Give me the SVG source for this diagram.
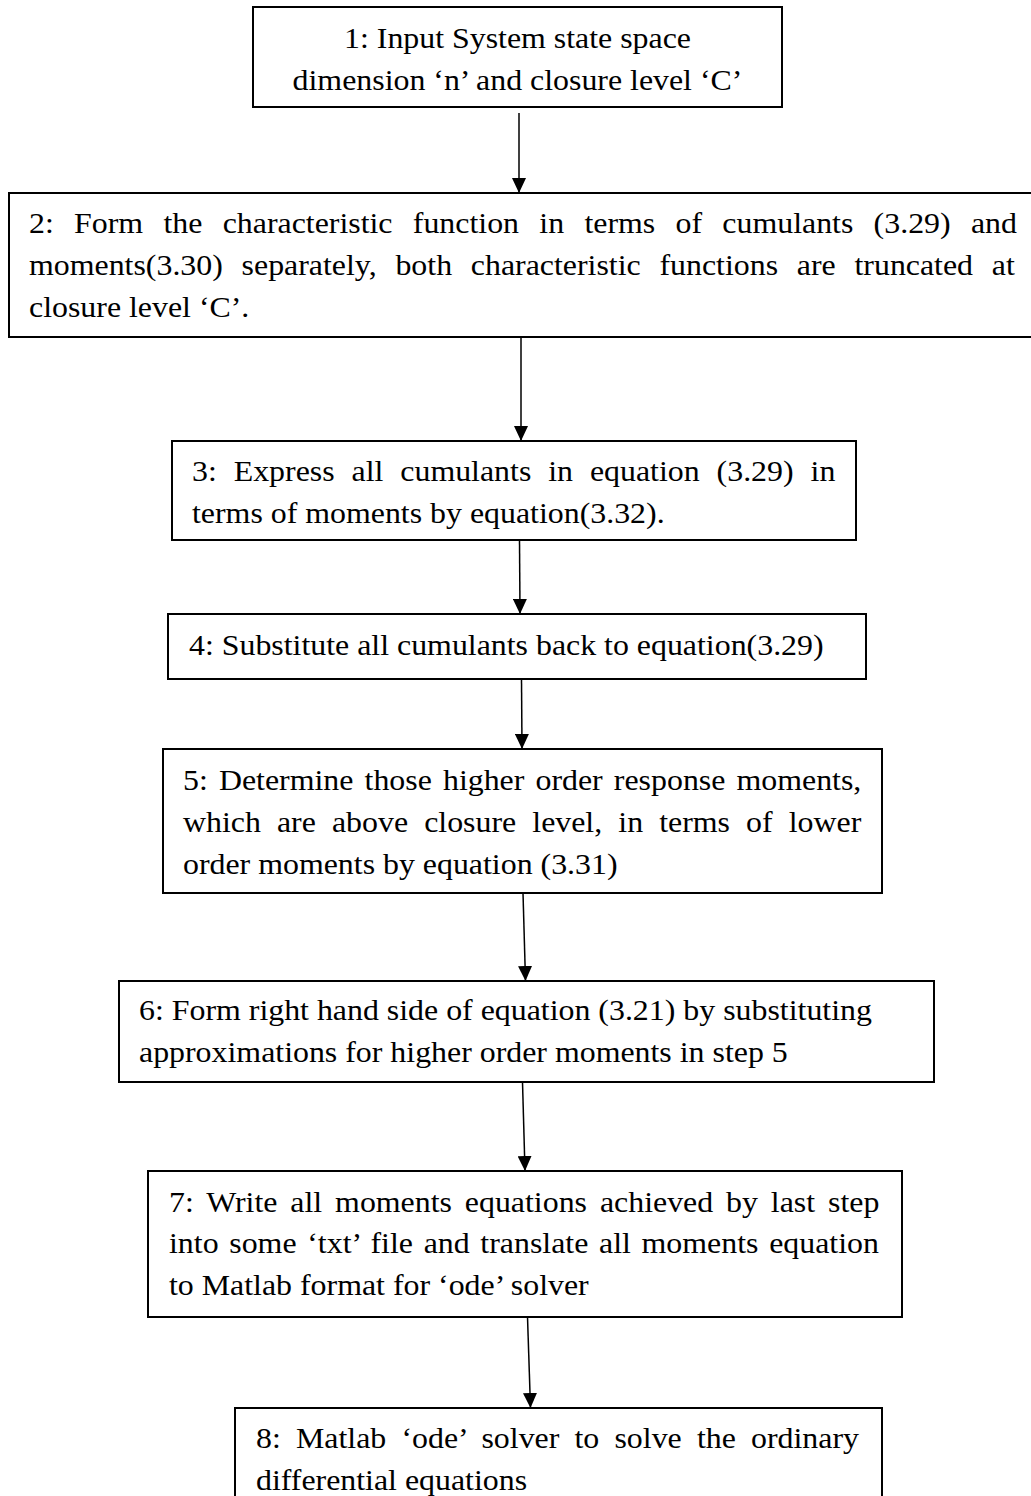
<svg xmlns="http://www.w3.org/2000/svg" width="1031" height="1496" viewBox="0 0 1031 1496">
<style>
.box{fill:#fff;stroke:#000;stroke-width:2}
.t{font-family:"Liberation Serif","Times New Roman",serif;font-size:30px;fill:#000}
.conn{stroke:#000;stroke-width:1.5;fill:none}
</style>
<defs>
<marker id="ah" markerUnits="userSpaceOnUse" markerWidth="16" markerHeight="14" refX="15" refY="7" orient="auto">
<path d="M0,0 L15,7 L0,14 Z" fill="#000"/>
</marker>
</defs>
<rect width="1031" height="1496" fill="#fff"/>
<g id="connectors">
<line class="conn" x1="519" y1="113" x2="519" y2="193" marker-end="url(#ah)"/>
<line class="conn" x1="521" y1="337" x2="521" y2="441" marker-end="url(#ah)"/>
<line class="conn" x1="519.5" y1="540" x2="520" y2="614" marker-end="url(#ah)"/>
<line class="conn" x1="521.5" y1="679" x2="522" y2="749" marker-end="url(#ah)"/>
<line class="conn" x1="523" y1="893" x2="525.5" y2="981" marker-end="url(#ah)"/>
<line class="conn" x1="522.5" y1="1082" x2="525" y2="1171" marker-end="url(#ah)"/>
<line class="conn" x1="527.5" y1="1317" x2="530.5" y2="1408" marker-end="url(#ah)"/>
</g>
<g id="n1">
<rect class="box" x="253" y="7" width="529" height="100"/>
<text class="t" text-anchor="middle" transform="translate(517.5,48) scale(1.063,1)">1: Input System state space</text>
<text class="t" text-anchor="middle" transform="translate(517.5,90) scale(1.063,1)">dimension ‘n’ and closure level ‘C’</text>
</g>
<g id="n2">
<rect class="box" x="9" y="193" width="1030" height="144"/>
<text class="t" word-spacing="11.6" transform="translate(29,233) scale(1.063,1)">2: Form the characteristic function in terms of cumulants (3.29) and</text>
<text class="t" word-spacing="10.16" transform="translate(29,275) scale(1.063,1)">moments(3.30) separately, both characteristic functions are truncated at</text>
<text class="t" transform="translate(29,317) scale(1.063,1)">closure level ‘C’.</text>
</g>
<g id="n3">
<rect class="box" x="172" y="441" width="684" height="99"/>
<text class="t" word-spacing="8.43" transform="translate(192,481) scale(1.063,1)">3: Express all cumulants in equation (3.29) in</text>
<text class="t" transform="translate(192,523) scale(1.063,1)">terms of moments by equation(3.32).</text>
</g>
<g id="n4">
<rect class="box" x="168" y="614" width="698" height="65"/>
<text class="t" transform="translate(189,655) scale(1.063,1)">4: Substitute all cumulants back to equation(3.29)</text>
</g>
<g id="n5">
<rect class="box" x="163" y="749" width="719" height="144"/>
<text class="t" word-spacing="2.98" transform="translate(183,790) scale(1.063,1)">5: Determine those higher order response moments,</text>
<text class="t" word-spacing="7.65" transform="translate(183,832) scale(1.063,1)">which are above closure level, in terms of lower</text>
<text class="t" transform="translate(183,874) scale(1.063,1)">order moments by equation (3.31)</text>
</g>
<g id="n6">
<rect class="box" x="119" y="981" width="815" height="101"/>
<text class="t" transform="translate(139,1020) scale(1.063,1)">6: Form right hand side of equation (3.21) by substituting</text>
<text class="t" transform="translate(139,1062) scale(1.063,1)">approximations for higher order moments in step 5</text>
</g>
<g id="n7">
<rect class="box" x="148" y="1171" width="754" height="146"/>
<text class="t" word-spacing="4.66" transform="translate(169,1212) scale(1.063,1)">7: Write all moments equations achieved by last step</text>
<text class="t" word-spacing="2.58" transform="translate(169,1253) scale(1.063,1)">into some ‘txt’ file and translate all moments equation</text>
<text class="t" transform="translate(169,1295) scale(1.063,1)">to Matlab format for ‘ode’ solver</text>
</g>
<g id="n8">
<rect class="box" x="235" y="1408" width="647" height="100"/>
<text class="t" word-spacing="6.78" transform="translate(256,1448) scale(1.063,1)">8: Matlab ‘ode’ solver to solve the ordinary</text>
<text class="t" transform="translate(256,1490) scale(1.063,1)">differential equations</text>
</g>
</svg>
